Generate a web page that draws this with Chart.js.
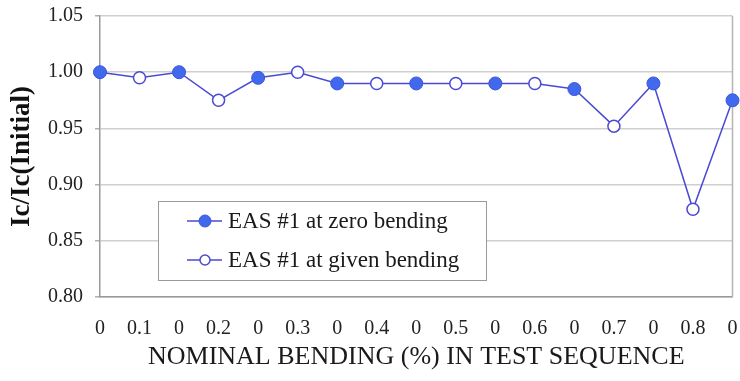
<!DOCTYPE html>
<html><head><meta charset="utf-8">
<script src="https://cdn.jsdelivr.net/npm/chart.js@4/dist/chart.umd.min.js"></script>
<style>html,body{margin:0;padding:0;background:#fff;}#wrap{width:740px;height:381px;}</style>
</head><body><div id="wrap"><canvas id="c" width="740" height="381"></canvas></div>
<script>
const tickLabels = ["0","0.1","0","0.2","0","0.3","0","0.4","0","0.5","0","0.6","0","0.7","0","0.8","0"];
const zeroBending = [1.000, 1.000, 0.995, 0.990, 0.990, 0.990, 0.985, 0.990, 0.975];
const givenBending = [0.995, 0.975, 1.000, 0.990, 0.990, 0.990, 0.952, 0.878];
const seriesNames = ["EAS #1 at zero bending", "EAS #1 at given bending"];
const yTitle = "Ic/Ic(Initial)";
const xTitle = "NOMINAL BENDING (%) IN TEST SEQUENCE";

const LINE = "#4a4ad2", FILL = "#4169ee", EDGE = "#3d55d8";
const SERIF = "'Liberation Serif', 'Times New Roman', serif";

// sequence alternates zero / given
const seq = [], isZero = [];
for (let i = 0; i < tickLabels.length; i++) {
  if (i % 2 === 0) { seq.push(zeroBending[i/2]); isZero.push(true); }
  else { seq.push(givenBending[(i-1)/2]); isZero.push(false); }
}

const legendPlugin = {
  id: 'boxLegend',
  afterDraw(chart) {
    const ctx = chart.ctx;
    ctx.save();
    const x0 = 158.5, y0 = 201.5, w = 328, h = 79;
    ctx.fillStyle = '#fff'; ctx.fillRect(x0, y0, w, h);
    ctx.strokeStyle = '#9a9a9a'; ctx.lineWidth = 1; ctx.strokeRect(x0, y0, w, h);
    const rows = [{y: 221, filled: true}, {y: 260, filled: false}];
    rows.forEach((r, k) => {
      ctx.strokeStyle = LINE; ctx.lineWidth = 1.5;
      ctx.beginPath(); ctx.moveTo(187, r.y); ctx.lineTo(222, r.y); ctx.stroke();
      ctx.beginPath(); ctx.arc(205, r.y, r.filled ? 6 : 5, 0, Math.PI*2);
      ctx.fillStyle = r.filled ? FILL : '#fff'; ctx.fill();
      ctx.strokeStyle = r.filled ? EDGE : LINE; ctx.lineWidth = r.filled ? 1 : 1.5; ctx.stroke();
      ctx.fillStyle = '#1a1a1a'; ctx.font = '23px ' + SERIF;
      ctx.textBaseline = 'middle'; ctx.textAlign = 'left';
      ctx.fillText(seriesNames[k], 228, r.y + 1);
    });
    ctx.restore();
  }
};

function noPad(s) { s.paddingTop = 0; s.paddingBottom = 0; s.paddingLeft = 0; s.paddingRight = 0; }

new Chart(document.getElementById('c'), {
  type: 'line',
  data: {
    labels: tickLabels,
    datasets: [{
      data: seq,
      borderColor: LINE,
      borderWidth: 1.5,
      tension: 0,
      pointRadius: isZero.map(z => z ? 6.5 : 6),
      pointBackgroundColor: isZero.map(z => z ? FILL : '#fff'),
      pointBorderColor: isZero.map(z => z ? EDGE : LINE),
      pointBorderWidth: isZero.map(z => z ? 1 : 1.5),
      clip: false
    }]
  },
  options: {
    responsive: false,
    animation: false,
    events: [],
    layout: { padding: { left: 0, right: 7, top: 16, bottom: 0 } },
    plugins: { legend: { display: false }, tooltip: { enabled: false } },
    scales: {
      x: {
        offset: false,
        grid: { display: false, drawOnChartArea: false, drawTicks: true, tickLength: 6, tickColor: '#b0b0b0' },
        border: { color: '#9a9a9a', width: 1.5 },
        ticks: { color: '#222', font: { family: SERIF, size: 20 }, padding: 14, maxRotation: 0, autoSkip: false },
        title: { display: true, text: xTitle, color: '#1a1a1a', font: { family: SERIF, size: 26 }, padding: { top: 4, bottom: 8 } },
        afterFit(s) { s.height = 84; noPad(s); }
      },
      y: {
        min: 0.80, max: 1.05,
        grid: { color: '#cfcfcf', lineWidth: 1.5, tickLength: 5, tickColor: '#b0b0b0' },
        border: { color: '#9a9a9a', width: 1.5 },
        ticks: { stepSize: 0.05, color: '#222', font: { family: SERIF, size: 20 }, padding: 12,
                 callback: v => Number(v).toFixed(2) },
        title: { display: true, text: yTitle, color: '#111', font: { family: SERIF, size: 27, weight: 'bold' }, padding: { top: 6, bottom: 6 } },
        afterFit(s) { s.width = 100; noPad(s); }
      }
    }
  },
  plugins: [legendPlugin, {
    id: 'rightBorder',
    beforeDatasetsDraw(chart) {
      const {ctx, chartArea: a} = chart;
      ctx.save(); ctx.strokeStyle = '#b5b5b5'; ctx.lineWidth = 1.5;
      ctx.beginPath(); ctx.moveTo(a.right, a.top); ctx.lineTo(a.right, a.bottom); ctx.stroke();
      ctx.restore();
    }
  }]
});
</script></body></html>
